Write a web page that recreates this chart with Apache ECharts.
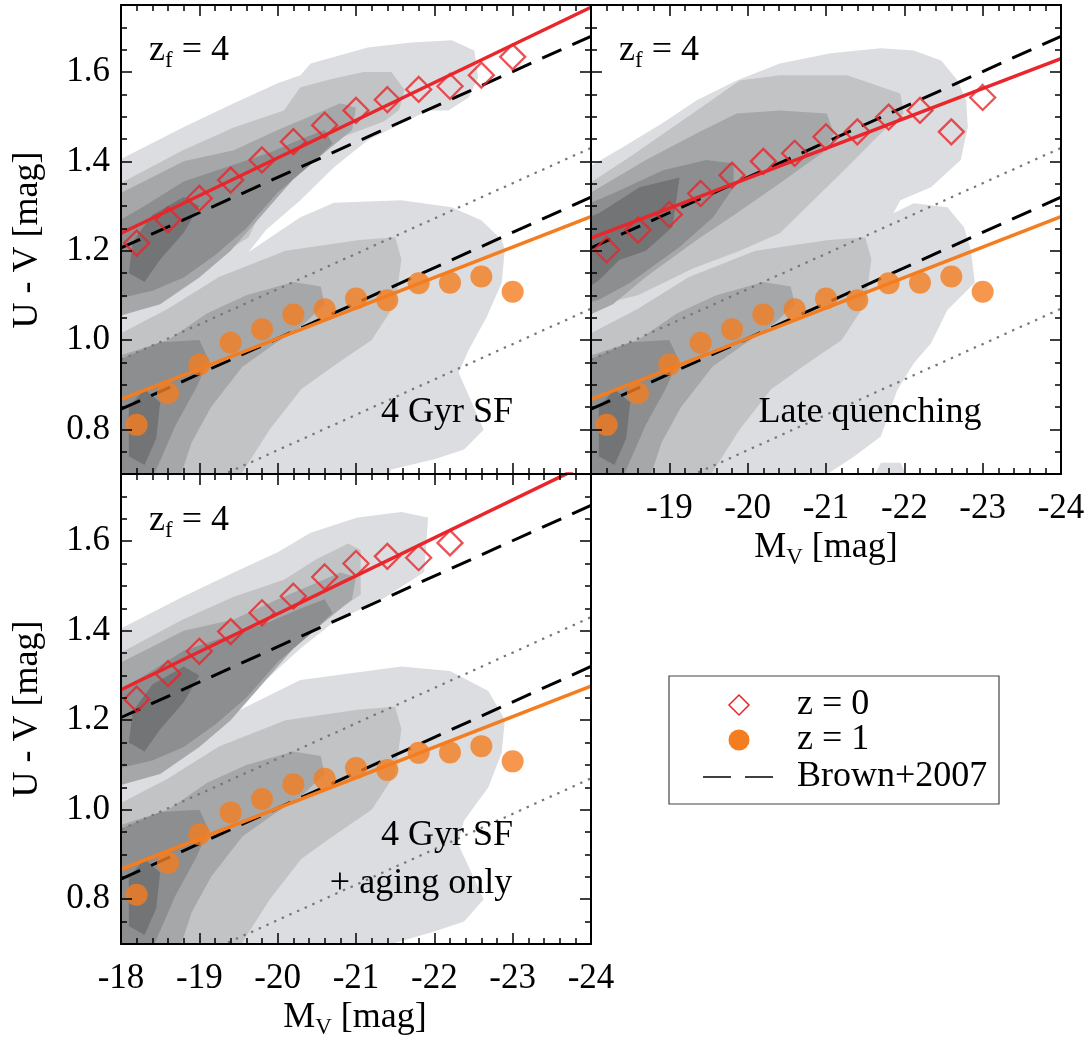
<!DOCTYPE html>
<html><head><meta charset="utf-8">
<script src="https://cdn.jsdelivr.net/npm/echarts@6/dist/echarts.min.js"></script>
<style>html,body{margin:0;padding:0;background:#fff}#c{width:1088px;height:1040px}</style>
</head><body><div id="c"></div>
<script>
// ---------------- DATA ----------------
const mvBins = [-18.2,-18.6,-19.0,-19.4,-19.8,-20.2,-20.6,-21.0,-21.4,-21.8,-22.2,-22.6,-23.0];
const z0_4GyrSF = [1.217,1.269,1.317,1.358,1.403,1.444,1.481,1.514,1.538,1.561,1.568,1.593,1.634];
const z0_lateQuench = [1.202,1.246,1.281,1.328,1.369,1.400,1.418,1.455,1.466,1.499,1.514,1.466,1.543];
const z0_aging = [1.247,1.304,1.354,1.398,1.440,1.477,1.520,1.550,1.566,1.563,1.596];
const z1_all = [0.810,0.881,0.945,0.994,1.024,1.057,1.069,1.093,1.089,1.127,1.128,1.142,1.108];

const lineX = [-18, -24];
const fitZ0_4GyrSF = [1.239, 1.745];
const fitZ0_late = [1.228, 1.630];
const fitZ0_aging = [1.268, 1.777];
const fitZ1 = [0.867, 1.276];
const brownZ0 = [1.206, 1.680];
const brownZ1 = [0.845, 1.320];
const dottedZ0 = [0.956, 1.430];
const dottedZ1 = [0.595, 1.070];

const xTickLabels = ['-18','-19','-20','-21','-22','-23','-24'];
const yTickLabels = ['0.8','1.0','1.2','1.4','1.6'];

// contour polygons (data coordinates: [M_V, U-V])
const upperA_L1 = [[-17.9,1.396],[-18.79,1.476],[-19.44,1.530],[-20.0,1.575],[-20.29,1.593],[-20.42,1.619],[-21.15,1.655],[-21.71,1.666],[-22.22,1.671],[-22.51,1.648],[-22.56,1.588],[-22.44,1.543],[-22.18,1.514],[-21.92,1.514],[-21.15,1.447],[-20.72,1.387],[-20.29,1.313],[-19.85,1.246],[-19.63,1.197],[-18.8,1.10],[-17.9,1.0]];
const lowerTL_L1 = [[-19.63,1.197],[-20.29,1.275],[-20.72,1.307],[-21.58,1.313],[-22.22,1.297],[-22.6,1.268],[-22.86,1.224],[-22.9,1.202],[-22.86,1.128],[-22.67,1.052],[-22.44,0.978],[-22.31,0.927],[-22.63,0.799],[-22.38,0.755],[-22.0,0.733],[-21.45,0.710],[-21.41,0.69],[-17.9,0.69],[-17.9,1.25],[-18.8,1.25]];
const upperA_L2 = [[-17.9,1.342],[-18.79,1.425],[-19.44,1.476],[-20.08,1.514],[-20.29,1.566],[-20.7,1.585],[-21.1,1.6],[-21.45,1.6],[-21.62,1.56],[-21.55,1.515],[-21.36,1.49],[-20.72,1.447],[-20.29,1.40],[-19.9,1.33],[-19.63,1.23],[-18.82,1.14],[-17.9,1.06]];
const upperA_L3 = [[-17.9,1.32],[-18.8,1.40],[-19.44,1.425],[-20.0,1.47],[-20.4,1.5],[-20.8,1.53],[-21.0,1.52],[-20.95,1.47],[-20.6,1.42],[-20.2,1.36],[-19.8,1.28],[-19.4,1.20],[-19.0,1.14],[-18.5,1.08],[-17.9,1.05]];
const upperA_L4 = [[-17.9,1.26],[-18.3,1.30],[-18.8,1.355],[-19.4,1.39],[-19.9,1.42],[-20.3,1.45],[-20.6,1.47],[-20.7,1.44],[-20.4,1.39],[-20.0,1.33],[-19.6,1.25],[-19.2,1.19],[-18.8,1.14],[-18.4,1.11],[-17.9,1.09]];
const upperA_L5 = [[-18.1,1.15],[-18.15,1.22],[-18.4,1.28],[-18.8,1.32],[-19.0,1.30],[-18.8,1.24],[-18.5,1.18],[-18.3,1.13]];

const upperB_L1 = [[-17.9,1.38],[-18.41,1.432],[-18.91,1.485],[-19.35,1.537],[-19.86,1.581],[-20.41,1.619],[-21.06,1.642],[-21.7,1.653],[-22.12,1.648],[-22.47,1.626],[-22.68,1.581],[-22.79,1.537],[-22.81,1.477],[-22.72,1.403],[-22.34,1.342],[-21.95,1.313],[-21.86,1.284],[-21.0,1.15],[-17.9,1.0]];
const lowerTR_L1 = [[-21.86,1.284],[-22.12,1.306],[-22.55,1.297],[-22.76,1.253],[-22.85,1.201],[-22.9,1.128],[-22.55,1.067],[-22.34,0.993],[-22.12,0.948],[-21.91,0.888],[-21.7,0.784],[-21.35,0.738],[-20.93,0.69],[-17.9,0.69],[-17.9,1.2],[-21.0,1.25]];
const lowerTR_patch = [[-21.6,0.69],[-21.7,0.725],[-21.95,0.725],[-22.05,0.69]];
const upperB_L2 = [[-17.9,1.342],[-18.49,1.409],[-19.35,1.514],[-19.9,1.581],[-20.41,1.593],[-21.27,1.593],[-21.95,1.552],[-21.99,1.507],[-21.7,1.463],[-21.27,1.387],[-20.84,1.313],[-20.41,1.239],[-19.9,1.20],[-19.3,1.16],[-18.6,1.10],[-17.9,1.07]];
const upperB_L3 = [[-17.9,1.32],[-18.7,1.403],[-19.35,1.463],[-19.86,1.507],[-20.41,1.514],[-21.01,1.507],[-21.1,1.463],[-21.0,1.425],[-20.41,1.351],[-19.86,1.284],[-19.35,1.224],[-18.7,1.141],[-18.28,1.08],[-17.9,1.05]];
const upperB_L4 = [[-17.9,1.30],[-18.28,1.328],[-18.92,1.38],[-19.47,1.403],[-19.82,1.395],[-19.82,1.342],[-19.56,1.275],[-19.13,1.208],[-18.49,1.127],[-18.1,1.09],[-17.9,1.08]];
const upperB_L5 = [[-17.9,1.27],[-18.1,1.284],[-18.62,1.342],[-19.13,1.364],[-19.04,1.253],[-18.7,1.2],[-18.36,1.179],[-18.1,1.134],[-17.9,1.11]];

const upperC_L1 = [[-17.9,1.396],[-18.79,1.476],[-19.44,1.530],[-20.0,1.575],[-20.42,1.619],[-21.02,1.653],[-21.58,1.665],[-21.92,1.653],[-21.9,1.60],[-21.87,1.531],[-21.36,1.473],[-20.72,1.42],[-20.29,1.36],[-19.6,1.25],[-18.9,1.17],[-18.5,1.1],[-17.9,1.0]];
const lowerBL_L1 = [[-18.9,1.17],[-19.6,1.23],[-20.29,1.29],[-21.58,1.32],[-22.2,1.31],[-22.69,1.265],[-22.86,1.213],[-22.9,1.2],[-22.86,1.127],[-22.69,1.05],[-22.38,0.976],[-22.3,0.925],[-22.63,0.80],[-22.38,0.75],[-22.0,0.728],[-21.45,0.70],[-21.4,0.69],[-17.9,0.69],[-17.9,1.25],[-18.5,1.22]];
const upperC_L2 = [[-17.9,1.342],[-18.79,1.425],[-19.44,1.476],[-20.08,1.514],[-20.5,1.56],[-20.9,1.595],[-21.06,1.58],[-21.06,1.48],[-20.72,1.44],[-20.29,1.39],[-19.9,1.32],[-19.4,1.24],[-18.82,1.14],[-17.9,1.06]];

const lower_L2 = [[-17.9,1.006],[-18.6,1.07],[-19.25,1.141],[-20.1,1.20],[-21.04,1.224],[-21.5,1.23],[-21.58,1.18],[-21.5,1.08],[-21.2,1.0],[-20.7,0.94],[-20.3,0.89],[-19.9,0.80],[-19.5,0.69],[-17.9,0.69]];
const lower_L3 = [[-17.9,0.96],[-18.6,1.0],[-19.1,1.06],[-19.6,1.10],[-20.2,1.13],[-20.55,1.12],[-20.6,1.08],[-20.3,1.03],[-19.95,0.99],[-19.55,0.94],[-19.15,0.85],[-18.9,0.77],[-18.75,0.69],[-17.9,0.69]];
const lower_L4 = [[-17.9,0.69],[-17.9,0.95],[-18.5,0.995],[-19.0,1.0],[-19.12,0.955],[-18.95,0.89],[-18.7,0.81],[-18.4,0.69]];
const lower_L5 = [[-18.1,0.74],[-18.1,0.85],[-18.3,0.89],[-18.5,0.86],[-18.45,0.78],[-18.3,0.72]];

// ---------------- STYLE ----------------
const FONT = '"Liberation Serif", "Times New Roman", serif';
const RED = '#e8262b', ORANGE = '#f47d20';
const LEVEL = ['#dcdde0', '#c2c3c5', '#a6a7a9', '#8d8e90', '#737476'];
const TICKFS = 35, TEXTFS = 36;

const panels = [
  { grid: {left:121, top:5, width:470, height:469}, xLabels:false, hideFirst:false, yLabels:true,
    levels: [[upperA_L1, lowerTL_L1],[upperA_L2, lower_L2],[upperA_L3, lower_L3],[upperA_L4, lower_L4],[upperA_L5, lower_L5]],
    z0: z0_4GyrSF, fitZ0: fitZ0_4GyrSF },
  { grid: {left:591, top:5, width:470, height:469}, xLabels:true, hideFirst:true, yLabels:false,
    levels: [[upperB_L1, lowerTR_L1, lowerTR_patch],[upperB_L2, lower_L2],[upperB_L3, lower_L3],[upperB_L4, lower_L4],[upperB_L5, lower_L5]],
    z0: z0_lateQuench, fitZ0: fitZ0_late },
  { grid: {left:121, top:474, width:470, height:470}, xLabels:true, hideFirst:false, yLabels:true,
    levels: [[upperC_L1, lowerBL_L1],[upperC_L2, lower_L2],[upperA_L3, lower_L3],[upperA_L4, lower_L4],[upperA_L5, lower_L5]],
    z0: z0_aging, fitZ0: fitZ0_aging }
];

const grids = [], xAxes = [], yAxes = [], series = [];
const axisLine = {show:true, onZero:false, lineStyle:{color:'#000', width:2}};
const tick = {show:true, inside:true, length:11, lineStyle:{color:'#000', width:1.5}};
function isMajorY(v){ return Math.abs(v*5 - Math.round(v*5)) < 1e-6 && v > 0.75 && v < 1.7; }

panels.forEach((p, g) => {
  grids.push(Object.assign({outerBoundsMode:'none', containLabel:false}, p.grid));
  ['bottom','top'].forEach(pos => xAxes.push({
    gridIndex:g, type:'value', position:pos, min:-24, max:-18, interval:1, inverse:true, z:10,
    axisLine, axisTick:tick,
    minorTick:{show:true, splitNumber:5, length:6, lineStyle:{color:'#000', width:1.5}},
    splitLine:{show:false}, minorSplitLine:{show:false},
    axisLabel:{show: pos==='bottom' && p.xLabels, margin:17, fontSize:TICKFS, fontFamily:FONT, color:'#000',
      formatter: v => { const s = xTickLabels[Math.round(-18 - v)]; return (p.hideFirst && Math.round(v) === -18) ? '' : s; }}
  }));
  ['left','right'].forEach(pos => yAxes.push({
    gridIndex:g, type:'value', position:pos, min:0.7, max:1.75, splitNumber:5, z:10,
    axisLine, axisTick:tick,
    minorTick:{show:true, splitNumber:4, length:6, lineStyle:{color:'#000', width:1.5}},
    splitLine:{show:false}, minorSplitLine:{show:false},
    axisLabel:{show: pos==='left' && p.yLabels, margin:11, fontSize:TICKFS, fontFamily:FONT, color:'#000',
      formatter: v => isMajorY(v) ? yTickLabels[Math.round((v - 0.8) / 0.2)] : ''}
  }));
  const xi = 2*g, yi = 2*g;
  // contours
  p.levels.forEach((polys, li) => polys.forEach(poly => series.push({
    type:'custom', xAxisIndex:xi, yAxisIndex:yi, clip:true, silent:true, z:1,
    data:[[-18.5, 1.0]],
    renderItem: (params, api) => ({ type:'polygon', shape:{ points: poly.map(pt => api.coord(pt)) }, style:{ fill: LEVEL[li] } })
  })));
  const seg = ys => lineX.map((x, i) => [x, ys[i]]);
  const ln = (ys, color, width, type, z) => series.push({
    type:'line', xAxisIndex:xi, yAxisIndex:yi, data:seg(ys), symbol:'none', silent:true, clip:true, z,
    lineStyle:{color, width, type, cap:'butt'}
  });
  ln(dottedZ0, '#777', 2.2, [2.4, 6], 2);
  ln(dottedZ1, '#777', 2.2, [2.4, 6], 2);
  ln(brownZ0, '#000', 3, [21, 12], 3);
  ln(brownZ1, '#000', 3, [21, 12], 3);
  ln(fitZ1, ORANGE, 3.5, 'solid', 3);
  ln(p.fitZ0, RED, 3.5, 'solid', 3);
  series.push({ type:'scatter', xAxisIndex:xi, yAxisIndex:yi, symbol:'circle', symbolSize:22, z:5, silent:true,
    data: mvBins.map((x, i) => [x, z1_all[i]]), itemStyle:{color:ORANGE} });
  series.push({ type:'scatter', xAxisIndex:xi, yAxisIndex:yi, symbol:'diamond', symbolSize:25, z:5, silent:true,
    data: p.z0.map((y, i) => [mvBins[i], y]), itemStyle:{color:'rgba(0,0,0,0)', borderColor:RED, borderWidth:2.3} });
});

const F = TEXTFS + 'px ' + FONT;
const txt = (text, x, y, align) => ({ type:'text', x, y, z:20,
  style:{ text, fill:'#000', font:F, align: align || 'left', verticalAlign:'middle' } });
const zfRich = { a:{fontSize:TEXTFS, fontFamily:FONT, fill:'#000', lineHeight:42, verticalAlign:'middle'},
                 s:{fontSize:23, fontFamily:FONT, fill:'#000', lineHeight:23, verticalAlign:'bottom'} };
function richText(text, x, y, align){
  return { type:'text', x, y, z:20, style:{ text, rich: zfRich, fill:'#000', font:F, align: align || 'left', verticalAlign:'middle' } };
}

const graphic = [
  richText('{a|z}{s|f}{a| = 4}', 149, 51),
  richText('{a|z}{s|f}{a| = 4}', 619, 51),
  richText('{a|z}{s|f}{a| = 4}', 149, 521),
  txt('4 Gyr SF', 447, 413, 'center'),
  txt('Late quenching', 870, 413, 'center'),
  txt('4 Gyr SF', 447, 836, 'center'),
  txt('+ aging only', 421, 884, 'center'),
  { type:'text', x:28, y:240, rotation:Math.PI/2, z:20, style:{text:'U - V [mag]', fill:'#000', font:F, align:'center', verticalAlign:'middle'} },
  { type:'text', x:28, y:709, rotation:Math.PI/2, z:20, style:{text:'U - V [mag]', fill:'#000', font:F, align:'center', verticalAlign:'middle'} },
  richText('{a|M}{s|V}{a| [mag]}', 826, 548, 'center'),
  richText('{a|M}{s|V}{a| [mag]}', 355, 1018, 'center'),
  // legend
  { type:'rect', z:20, shape:{x:669, y:676, width:330, height:128}, style:{fill:'#fff', stroke:'#444', lineWidth:1.2} },
  { type:'polygon', z:21, shape:{points:[[739,695],[749,705],[739,715],[729,705]]}, style:{fill:'none', stroke:RED, lineWidth:1.5} },
  { type:'circle', z:21, shape:{cx:739, cy:740, r:10.5}, style:{fill:ORANGE} },
  { type:'line', z:21, shape:{x1:703, y1:777, x2:731, y2:777}, style:{stroke:'#000', lineWidth:1.5} },
  { type:'line', z:21, shape:{x1:745, y1:777, x2:773, y2:777}, style:{stroke:'#000', lineWidth:1.5} },
  txt('z = 0', 797, 705),
  txt('z = 1', 797, 740),
  txt('Brown+2007', 797, 777)
];

const chart = echarts.init(document.getElementById('c'), null, {renderer:'canvas'});
chart.setOption({ animation:false, backgroundColor:'#fff', grid:grids, xAxis:xAxes, yAxis:yAxes, series, graphic });
</script></body></html>
